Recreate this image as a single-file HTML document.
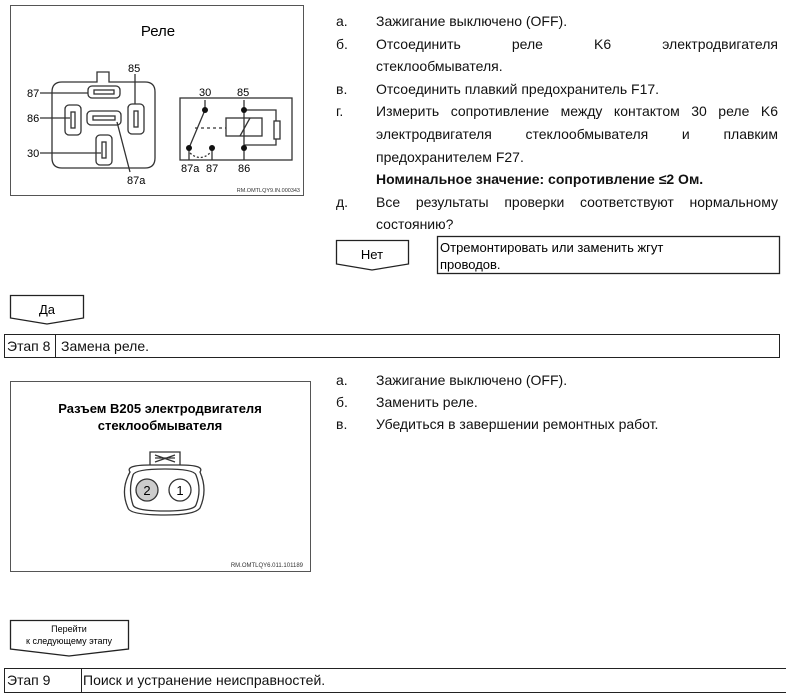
<!DOCTYPE html>
<html><head><meta charset="utf-8"><style>
body{margin:0;width:786px;height:700px;background:#fff;position:relative;font-family:"Liberation Sans",sans-serif;color:#111;overflow:hidden}
.a{position:absolute;white-space:nowrap}
.t{font-size:14px}
.row{position:absolute;border:1.5px solid #222;box-sizing:border-box;font-size:14px}
.row span{position:absolute;top:3px}
</style></head><body>
<svg class="a" style="left:0;top:0" width="786" height="700" font-family="Liberation Sans, sans-serif">
<rect x="10.5" y="5.5" width="293" height="190" fill="none" stroke="#555"/>
<text x="158" y="36" font-size="15" text-anchor="middle">Реле</text>
<g fill="none" stroke="#333" stroke-width="1.3">
<path d="M62 82 H97 V72 H109 V82 H145 Q155 82 155 92 V158 Q155 168 145 168 H62 Q52 168 52 158 V92 Q52 82 62 82Z"/>
<rect x="88" y="86" width="32" height="12" rx="4"/><rect x="94" y="90" width="20" height="4"/>
<rect x="65" y="105" width="16" height="30" rx="4"/><rect x="71" y="112" width="4" height="16"/>
<rect x="128" y="104" width="16" height="30" rx="4"/><rect x="134" y="111" width="4" height="16"/>
<rect x="87" y="111" width="34" height="14" rx="4"/><rect x="93" y="116" width="22" height="4"/>
<rect x="96" y="135" width="16" height="30" rx="4"/><rect x="102" y="142" width="4" height="16"/>
<path d="M40 93 H88 M40 118 H70 M40 153 H101 M135 74 V104 M117 122 L130 172"/>
<rect x="180" y="98" width="112" height="62"/>
<path d="M205 110 L189 148 M205 110 V100 M244 100 V110 H276 V145 H244 M244 110 V148 M189 148 V160 M212 148 V160 M244 148 V160"/>
<rect x="226" y="118" width="36" height="18"/><path d="M240 136 L250 118"/>
<rect x="274" y="121" width="6" height="18" fill="#fff"/>
<path d="M195 128 H226" stroke-dasharray="3 3"/><path d="M190 153 Q200 162 210 153" stroke-dasharray="2 2"/>
</g>
<g fill="#111"><circle cx="205" cy="110" r="3"/><circle cx="244" cy="110" r="3"/><circle cx="189" cy="148" r="3"/><circle cx="212" cy="148" r="3"/><circle cx="244" cy="148" r="3"/></g>
<g font-size="11"><text x="27" y="97">87</text><text x="27" y="122">86</text><text x="27" y="157">30</text><text x="128" y="72">85</text><text x="127" y="184">87a</text>
<text x="199" y="96">30</text><text x="237" y="96">85</text><text x="181" y="172">87a</text><text x="206" y="172">87</text><text x="238" y="172">86</text></g>
<text x="300" y="192" font-size="5.5" text-anchor="end" fill="#333">RM.OMTLQY9.IN.000343</text>
<rect x="10.5" y="381.5" width="300" height="190" fill="none" stroke="#555"/>
<text x="160" y="413" font-size="13" font-weight="bold" text-anchor="middle">Разъем B205 электродвигателя</text>
<text x="160" y="430" font-size="13" font-weight="bold" text-anchor="middle">стеклообмывателя</text>
<g fill="none" stroke="#333" stroke-width="1.3">
<path d="M150 465 V452 H180 V465 M155 458 H175 M155 462 L175 455 M155 455 L175 462"/>
<path d="M130 472 Q125 465 150 465 H180 Q205 465 200 472 Q208 490 200 508 Q195 515 165 515 Q130 515 128 508 Q120 490 130 472Z"/>
<path d="M133 475 Q128 490 133 505 Q135 511 165 511 Q194 511 196 505 Q202 490 196 475 Q194 469 165 469 Q135 469 133 475Z"/>
<circle cx="147" cy="490" r="11" fill="#ccc"/><circle cx="180" cy="490" r="11"/>
</g>
<text x="147" y="495" font-size="13" text-anchor="middle">2</text><text x="180" y="495" font-size="13" text-anchor="middle">1</text>
<text x="303" y="567" font-size="6" text-anchor="end" fill="#333">RM.OMTLQY6.011.101189</text>
<g fill="#fff" stroke="#222" stroke-width="1.3">
<path d="M336.5 240.5 H408.5 V264 L372 270 L336.5 264Z"/>
<path d="M10.5 295.5 H83.5 V318 L47 324 L10.5 318Z"/>
<path d="M10.5 620.5 H128.5 V649 L69 656 L10.5 649Z"/>
</g>
<text x="372" y="259" font-size="13" text-anchor="middle">Нет</text>
<text x="47" y="314" font-size="13" text-anchor="middle">Да</text>
<text x="69" y="632" font-size="9" text-anchor="middle">Перейти</text>
<text x="69" y="644" font-size="9" text-anchor="middle">к следующему этапу</text>
<rect x="437.5" y="236.5" width="342" height="37" fill="none" stroke="#222" stroke-width="1.3"/>
<text x="440" y="252" font-size="13">Отремонтировать или заменить жгут</text>
<text x="440" y="269" font-size="13">проводов.</text>
</svg>
<div class="a t" style="left:336px;top:10px;line-height:22.6px">а.<br>б.<br><br>в.<br>г.<br><br><br><br>д.</div>
<div class="a t" style="left:376px;top:10px;width:402px;line-height:22.6px;white-space:normal;text-align:justify">Зажигание выключено (OFF).<br>
<div style="text-align:justify;text-align-last:justify">Отсоединить реле K6 электродвигателя</div>стеклообмывателя.<br>Отсоединить плавкий предохранитель F17.<br>Измерить сопротивление между контактом 30 реле K6 электродвигателя стеклообмывателя и плавким предохранителем F27.<br><b>Номинальное значение: сопротивление ≤2 Ом.</b><br>Все результаты проверки соответствуют нормальному состоянию?</div>
<div class="row" style="left:4px;top:334px;width:776px;height:24px"><span style="left:2px">Этап 8</span><span style="left:56px">Замена реле.</span><div style="position:absolute;left:50px;top:0;bottom:0;border-left:1.5px solid #222"></div></div>
<div class="a t" style="left:336px;top:369px;line-height:22px">а.<br>б.<br>в.</div>
<div class="a t" style="left:376px;top:369px;line-height:22px">Зажигание выключено (OFF).<br>Заменить реле.<br>Убедиться в завершении ремонтных работ.</div>
<div class="row" style="left:4px;top:668px;width:784px;height:25px"><span style="left:2px">Этап 9</span><span style="left:78px">Поиск и устранение неисправностей.</span><div style="position:absolute;left:76px;top:0;bottom:0;border-left:1.5px solid #222"></div></div>
</body></html>
